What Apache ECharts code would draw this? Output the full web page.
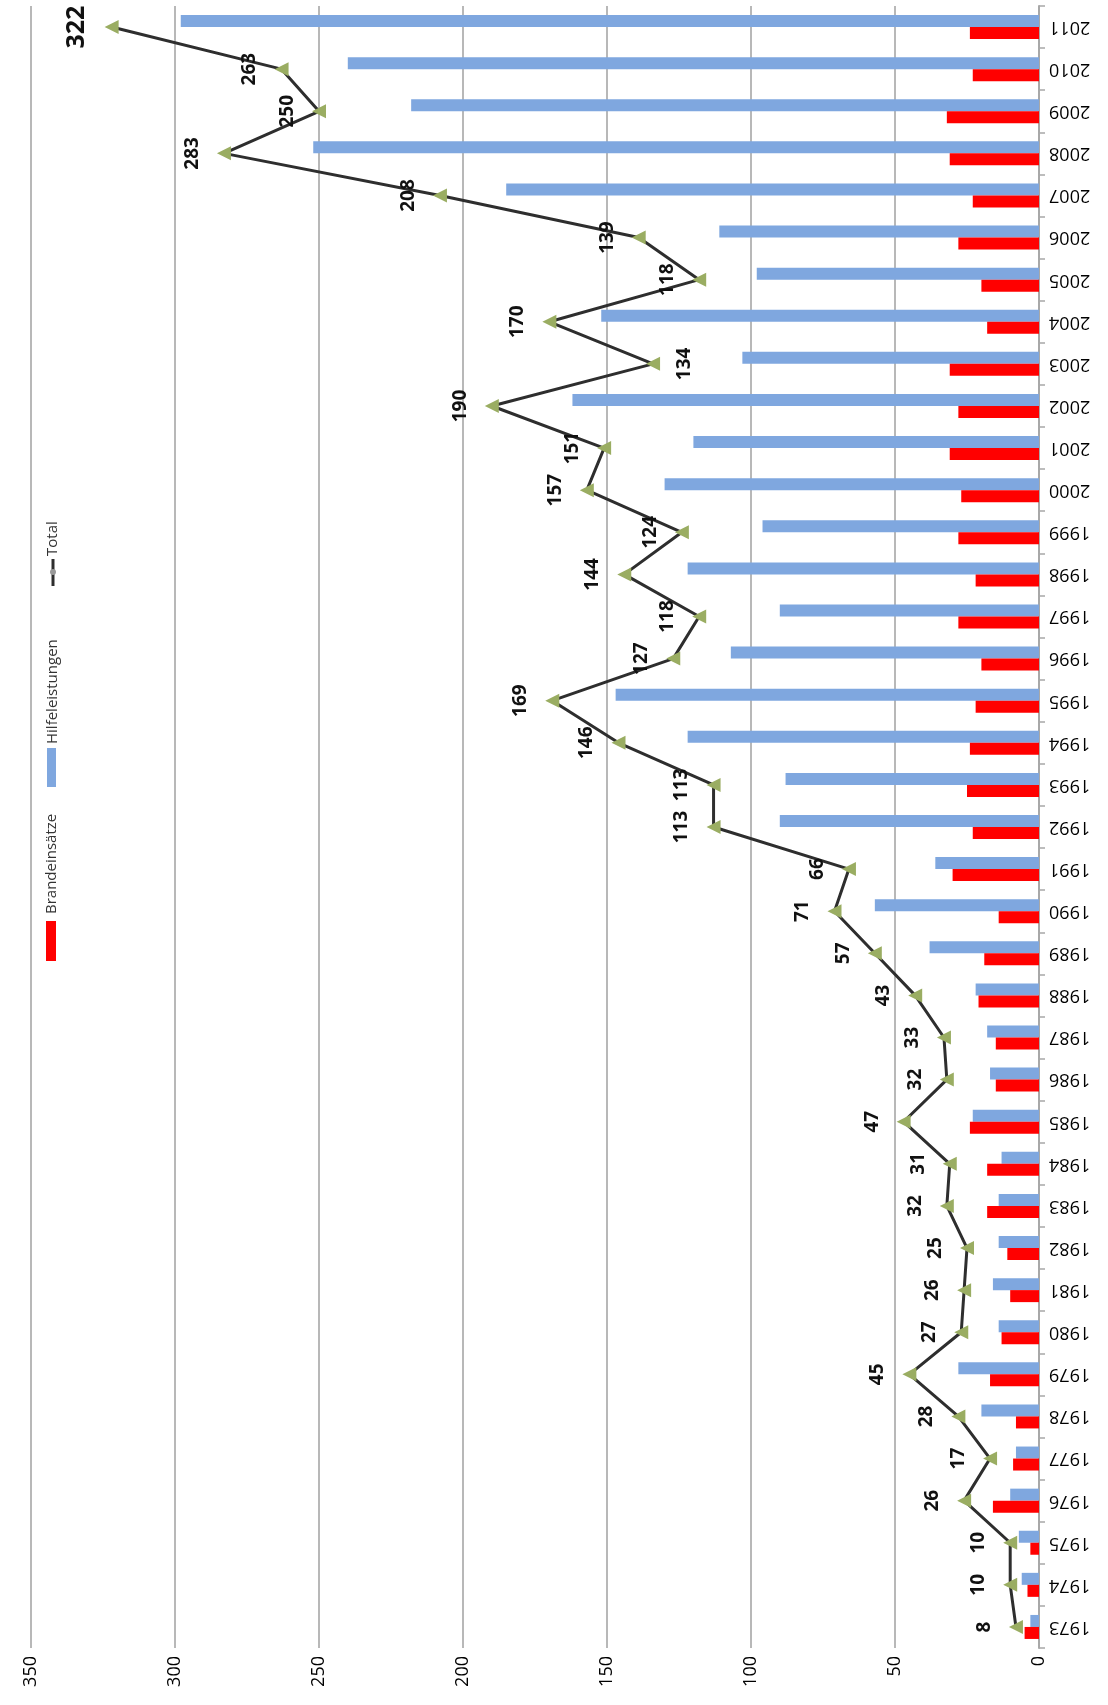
<!DOCTYPE html>
<html>
<head>
<meta charset="utf-8">
<script src="https://cdn.jsdelivr.net/npm/echarts@6/dist/echarts.min.js"></script>
<style>
  html, body { margin: 0; padding: 0; background: #ffffff; }
  #chart { width: 1108px; height: 1705px; }
</style>
</head>
<body>
<div id="chart"></div>
<script>
// ---- Data ----
const years = ['1973','1974','1975','1976','1977','1978','1979','1980','1981','1982','1983','1984','1985','1986','1987','1988','1989','1990','1991','1992','1993','1994','1995','1996','1997','1998','1999','2000','2001','2002','2003','2004','2005','2006','2007','2008','2009','2010','2011'];
const brandeinsaetze = [5,4,3,16,9,8,17,13,10,11,18,18,24,15,15,21,19,14,30,23,25,24,22,20,28,22,28,27,31,28,31,18,20,28,23,31,32,23,24];
const hilfeleistungen = [3,6,7,10,8,20,28,14,16,14,14,13,23,17,18,22,38,57,36,90,88,122,147,107,90,122,96,130,120,162,103,152,98,111,185,252,218,240,298];
const total = [8,10,10,26,17,28,45,27,26,25,32,31,47,32,33,43,57,71,66,113,113,146,169,127,118,144,124,157,151,190,134,170,118,139,208,283,250,263,322];
const valueTicks = { min: 0, max: 350, interval: 50 };

const legendNames = ['Brandeinsätze', 'Hilfeleistungen', 'Total'];
const RED = '#ff0000';
const BLUE = '#7fa7df';
const LINE = '#2e2e2e';
const MARK = '#9aad62';
const FONT = 'Open Sans';

const totalData = total.map((v, i) => {
  if (i === total.length - 1) {
    return { value: v, label: { fontSize: 25 } };
  }
  if (years[i] === '2003') {
    return { value: v, label: { position: 'right', verticalAlign: 'top' } };
  }
  return v;
});

const chart = echarts.init(document.getElementById('chart'));
chart.setOption({
  animation: false,
  backgroundColor: '#ffffff',
  grid: { left: 31, right: 69, top: 6, bottom: 57, containLabel: false },
  xAxis: {
    type: 'value',
    inverse: true,
    position: 'bottom',
    min: valueTicks.min,
    max: valueTicks.max,
    interval: valueTicks.interval,
    axisLine: { show: false },
    axisTick: { show: false },
    splitLine: { show: true, lineStyle: { color: '#b8b8b8', width: 2 } },
    axisLabel: { rotate: 90, fontSize: 18, color: '#000', fontFamily: FONT, margin: 8 }
  },
  yAxis: {
    type: 'category',
    position: 'right',
    data: years,
    axisLine: { show: true, lineStyle: { color: '#a8a8a8', width: 2 } },
    axisTick: { show: true, length: 6, lineStyle: { color: '#a8a8a8', width: 1.5 } },
    axisLabel: { rotate: 180, fontSize: 18, color: '#000', fontFamily: FONT, margin: 10 }
  },
  series: [
    {
      name: legendNames[1],
      type: 'bar',
      data: hilfeleistungen,
      barWidth: 12,
      barGap: '0%',
      itemStyle: { color: BLUE }
    },
    {
      name: legendNames[0],
      type: 'bar',
      data: brandeinsaetze,
      barWidth: 12,
      barGap: '0%',
      itemStyle: { color: RED }
    },
    {
      name: legendNames[2],
      type: 'line',
      data: totalData,
      symbol: 'triangle',
      symbolRotate: 90,
      symbolSize: 14,
      itemStyle: { color: MARK },
      lineStyle: { color: LINE, width: 3 },
      z: 5,
      label: {
        show: true,
        position: 'left',
        distance: 15,
        rotate: 90,
        align: 'center',
        verticalAlign: 'bottom',
        fontSize: 19,
        fontWeight: 'bold',
        color: '#111',
        fontFamily: FONT
      }
    }
  ],
  graphic: [
    { type: 'rect', shape: { x: 46, y: 921, width: 10, height: 40 }, style: { fill: RED } },
    { type: 'text', x: 52, y: 914, rotation: Math.PI / 2,
      style: { text: legendNames[0], x: 0, y: 0, textAlign: 'left', textVerticalAlign: 'middle', fontSize: 15, fontFamily: FONT, fill: '#333' } },
    { type: 'rect', shape: { x: 47, y: 748, width: 9, height: 39 }, style: { fill: BLUE } },
    { type: 'text', x: 53, y: 744, rotation: Math.PI / 2,
      style: { text: legendNames[1], x: 0, y: 0, textAlign: 'left', textVerticalAlign: 'middle', fontSize: 15, fontFamily: FONT, fill: '#333' } },
    { type: 'line', shape: { x1: 53, y1: 586, x2: 53, y2: 559 }, style: { stroke: LINE, lineWidth: 3 } },
    { type: 'circle', shape: { cx: 53, cy: 572, r: 3 }, style: { fill: '#999' } },
    { type: 'text', x: 53, y: 556, rotation: Math.PI / 2,
      style: { text: legendNames[2], x: 0, y: 0, textAlign: 'left', textVerticalAlign: 'middle', fontSize: 15, fontFamily: FONT, fill: '#333' } }
  ]
});
</script>
</body>
</html>
